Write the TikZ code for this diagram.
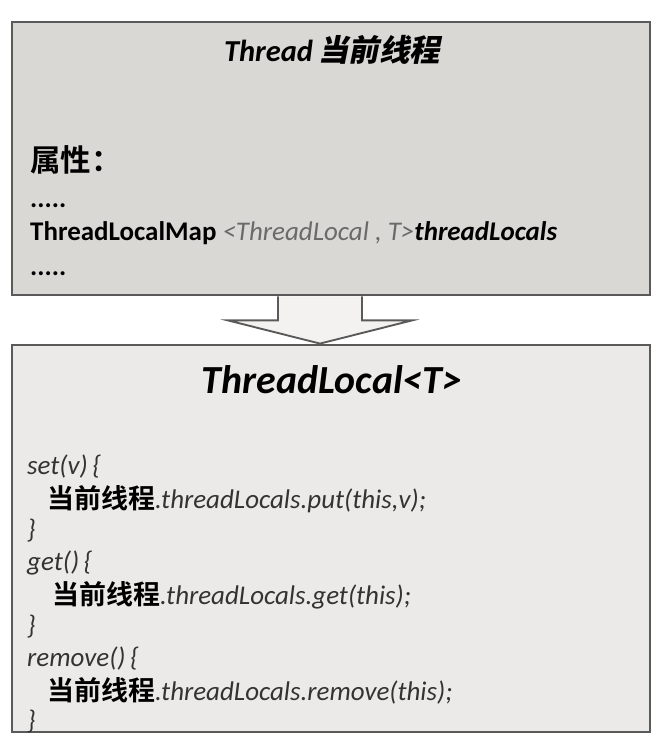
\documentclass[tikz,border=0pt]{standalone}
\usepackage{fontspec}
\setmainfont{Carlito}
\newfontfamily\cjk{Noto Sans CJK SC}[BoldFont={Noto Sans CJK SC Bold}]
\newfontfamily\cjkslant{Noto Sans CJK SC Bold}[FakeSlant=0.2]
\usepackage{tikz}
\usetikzlibrary{positioning, calc}
\definecolor{topgray}{HTML}{D9D8D4}
\definecolor{botgray}{HTML}{EBEAE8}
\definecolor{edgegray}{HTML}{5A5A5A}
\definecolor{textgray}{HTML}{333333}
\definecolor{typegray}{HTML}{6A6A6A}

\begin{document}
\begin{tikzpicture}[x=0.03cm, y=-0.03cm,
        box/.style={rectangle, draw=edgegray, line width=2.4pt, minimum width=19.14cm, inner sep=0pt},
        txt/.style={anchor=base west, inner sep=0pt, font=\fontsize{23}{26}\selectfont},
        code/.style={txt, text=textgray, font=\fontsize{23}{26}\selectfont\itshape},
        hollow/.style={draw=edgegray, line width=1.6pt, fill=botgray!60}]

        \useasboundingbox (0,0) rectangle (662,744);

        % Thread box
        \node [box, fill=topgray, minimum height=8.19cm] (thread) at (331,158.5) {};
        \node [anchor=base, inner sep=0pt, font=\fontsize{26}{30}\selectfont\bfseries\itshape] (threadtitle) at (332,61) {Thread\,{\cjkslant 当前线程}};
        \node [txt, font=\fontsize{26}{30}\selectfont\cjk\bfseries] (attr) at (30,171) {属性：};
        \node [txt, font=\fontsize{23}{26}\selectfont\bfseries] (dots1) at (30,207) {.....};
        \node [txt, font=\fontsize{23}{26}\selectfont\bfseries] (field) at (30,240) {ThreadLocalMap {\color{typegray}\mdseries\itshape <ThreadLocal , T>}\textit{threadLocals}};
        \node [txt, font=\fontsize{23}{26}\selectfont\bfseries] (dots2) at (30,275) {.....};

        % ThreadLocal box
        \node [box, fill=botgray, minimum height=11.61cm] (tlocal) at (331,538.5) {};
        \node [anchor=base, inner sep=0pt, font=\fontsize{34}{38}\selectfont\bfseries\itshape] (tltitle) at (332,393) {ThreadLocal<T>};

        % Methods
        \node [code] (set) at (27,474) {set(v)\,\{};
        \node [code] (setbody) at (47,508) {{\upshape\color{black}\cjk\bfseries 当前线程}.threadLocals.put(this,v);};
        \node [code] (setend) at (27,538) {\}};
        \node [code] (get) at (27,570) {get()\,\{};
        \node [code] (getbody) at (52,604) {{\upshape\color{black}\cjk\bfseries 当前线程}.threadLocals.get(this);};
        \node [code] (getend) at (27,634) {\}};
        \node [code] (remove) at (27,666) {remove()\,\{};
        \node [code] (removebody) at (47,700) {{\upshape\color{black}\cjk\bfseries 当前线程}.threadLocals.remove(this);};
        \node [code] (removeend) at (27,729) {\}};

        % Hollow arrow
        \draw [hollow] ($(thread.south)+(-53,0)$) -- ++(0,24) -- ++(-50,0)
            -- ($(tlocal.north)+(-11,0)$) -- ($(thread.south)+(81,24)$) -- ++(-50,0) -- ++(0,-24);

    \end{tikzpicture}
\end{document}
